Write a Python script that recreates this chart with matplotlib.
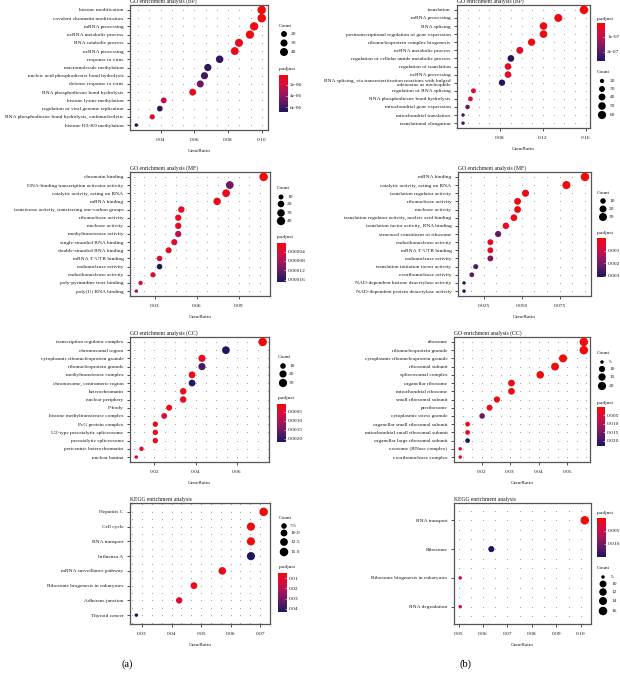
import numpy as np
import matplotlib
matplotlib.use('Agg')
import matplotlib.pyplot as plt
from matplotlib.colors import LinearSegmentedColormap, Normalize
from matplotlib.cm import ScalarMappable

# ---------------------------------------------------------------- data
bp_a_terms = ['histone modification', 'covalent chromatin modification',
              'mRNA processing', 'ncRNA metabolic process',
              'RNA catabolic process', 'ncRNA processing', 'response to virus',
              'macromolecule methylation',
              'nucleic acid phosphodiester bond hydrolysis',
              'defense response to virus', 'RNA phosphodiester bond hydrolysis',
              'histone lysine methylation',
              'regulation of viral genome replication',
              'RNA phosphodiester bond hydrolysis, endonucleolytic',
              'histone H3-K9 methylation']
bp_a_ratio = [0.100, 0.100, 0.0955, 0.093, 0.0865, 0.084, 0.075, 0.068, 0.066,
              0.0635, 0.059, 0.0418, 0.0395, 0.035, 0.0255]
bp_a_count = [47, 47, 45, 44, 41, 39, 35, 32, 31, 30, 28, 20, 19, 16, 12]
bp_a_padj = [2.0e-7, 2.0e-7, 4e-7, 5e-7, 6e-7, 8e-7, 6.2e-6, 6.3e-6, 5.9e-6,
             4.8e-6, 8e-7, 2.4e-6, 6.5e-6, 1.4e-6, 6.9e-6]

bp_b_terms = ['translation', 'mRNA processing', 'RNA splicing',
              'posttranscriptional regulation of gene expression',
              'ribonucleoprotein complex biogenesis', 'ncRNA metabolic process',
              'regulation of cellular amide metabolic process',
              'regulation of translation', 'ncRNA processing',
              'RNA splicing, via transesterification reactions with bulged\n'
              'adenosine as nucleophile',
              'regulation of RNA splicing', 'RNA phosphodiester bond hydrolysis',
              'mitochondrial gene expression', 'mitochondrial translation',
              'translational elongation']
bp_b_ratio = [0.1582, 0.1343, 0.1205, 0.1205, 0.1094, 0.0984, 0.0901, 0.0874,
              0.0874, 0.0818, 0.0552, 0.0524, 0.0497, 0.0455, 0.0455]
bp_b_count = [66, 56, 50, 50, 46, 41, 38, 37, 37, 34, 23, 22, 21, 19, 19]
bp_b_padj = [7e-9, 1e-8, 1e-8, 1.5e-8, 2e-8, 4e-8, 2.55e-7, 4e-8, 4e-8, 2.6e-7,
             5e-8, 6e-8, 1.9e-7, 2.2e-7, 2.25e-7]

mf_a_terms = ['chromatin binding', 'DNA-binding transcription activator activity',
              'catalytic activity, acting on RNA', 'mRNA binding',
              'transferase activity, transferring one-carbon groups',
              'ribonuclease activity', 'nuclease activity',
              'methyltransferase activity', 'single-stranded RNA binding',
              'double-stranded RNA binding', "mRNA 3'-UTR binding",
              'endonuclease activity', 'endoribonuclease activity',
              'poly-pyrimidine tract binding', 'poly(U) RNA binding']
mf_a_ratio = [0.1076, 0.0835, 0.0809, 0.0745, 0.049, 0.0468, 0.0468, 0.0468,
              0.044, 0.040, 0.0335, 0.0335, 0.0288, 0.020, 0.017]
mf_a_count = [42, 33, 32, 29, 19, 18, 18, 18, 17, 16, 13, 13, 11, 8, 7]
mf_a_padj = [4e-6, 1.15e-4, 2e-5, 2e-5, 2.5e-5, 2.5e-5, 2.5e-5, 7e-5, 3e-5,
             3e-5, 3.5e-5, 1.69e-4, 3.5e-5, 4e-5, 7.5e-5]

mf_b_terms = ['mRNA binding', 'catalytic activity, acting on RNA',
              'translation regulator activity', 'ribonuclease activity',
              'nuclease activity',
              'translation regulator activity, nucleic acid binding',
              'translation factor activity, RNA binding',
              'structural constituent of ribosome', 'endoribonuclease activity',
              "mRNA 3'-UTR binding", 'endonuclease activity',
              'translation initiation factor activity',
              'exoribonuclease activity',
              'NAD-dependent histone deacetylase activity',
              'NAD-dependent protein deacetylase activity']
mf_b_ratio = [0.0917, 0.0795, 0.0526, 0.0474, 0.0474, 0.045, 0.0397, 0.0346,
              0.0295, 0.0295, 0.0295, 0.0199, 0.0173, 0.0122, 0.0122]
mf_b_count = [36, 31, 21, 19, 19, 18, 16, 14, 12, 12, 12, 8, 7, 5, 5]
mf_b_padj = [1e-6, 1e-5, 1e-4, 1.5e-4, 1.5e-4, 2e-4, 3e-4, 2.3e-3, 4e-4, 4e-4,
             1.9e-3, 2.4e-3, 2.3e-3, 2.8e-3, 3.1e-3]

cc_a_terms = ['transcription regulator complex', 'chromosomal region',
              'cytoplasmic ribonucleoprotein granule',
              'ribonucleoprotein granule', 'methyltransferase complex',
              'chromosome, centromeric region', 'heterochromatin',
              'nuclear periphery', 'P-body', 'histone methyltransferase complex',
              'PcG protein complex', 'U2-type precatalytic spliceosome',
              'precatalytic spliceosome', 'pericentric heterochromatin',
              'nuclear lamina']
cc_a_ratio = [0.0725, 0.0547, 0.0431, 0.0431, 0.0383, 0.0383, 0.034, 0.034,
              0.0272, 0.0248, 0.0205, 0.0205, 0.0205, 0.0138, 0.0113]
cc_a_count = [33, 25, 20, 20, 17, 17, 15, 15, 12, 11, 9, 9, 9, 6, 5]
cc_a_padj = [6e-5, 2.17e-3, 3e-4, 1.85e-3, 2e-4, 2.1e-3, 2e-4, 3e-4, 2e-4,
             5e-4, 2.5e-4, 2.5e-4, 2.5e-4, 3e-4, 5e-4]

cc_b_terms = ['ribosome', 'ribonucleoprotein granule',
              'cytoplasmic ribonucleoprotein granule', 'ribosomal subunit',
              'spliceosomal complex', 'organellar ribosome',
              'mitochondrial ribosome', 'small ribosomal subunit', 'preribosome',
              'cytoplasmic stress granule', 'organellar small ribosomal subunit',
              'mitochondrial small ribosomal subunit',
              'organellar large ribosomal subunit', 'exosome (RNase complex)',
              'exoribonuclease complex']
cc_b_ratio = [0.0559, 0.0559, 0.0486, 0.0458, 0.0406, 0.0305, 0.0305, 0.0254,
              0.0228, 0.0202, 0.0151, 0.0151, 0.0151, 0.0125, 0.0125]
cc_b_count = [22, 22, 19, 18, 16, 12, 12, 10, 9, 8, 6, 6, 6, 5, 5]
cc_b_padj = [1e-5, 1e-5, 1e-4, 2e-4, 3e-4, 5e-4, 5e-4, 8e-4, 1.5e-3, 0.016,
             1.2e-3, 1.2e-3, 0.023, 5e-3, 5e-3]

kegg_a_terms = ['Hepatitis C', 'Cell cycle', 'RNA transport', 'Influenza A',
                'mRNA surveillance pathway', 'Ribosome biogenesis in eukaryotes',
                'Adherens junction', 'Thyroid cancer']
kegg_a_ratio = [0.0712, 0.0669, 0.0669, 0.0669, 0.0572, 0.0476, 0.0426, 0.0281]
kegg_a_count = [15, 14, 14, 14, 12, 10, 9, 6]
kegg_a_padj = [0.005, 0.006, 0.006, 0.042, 0.007, 0.008, 0.014, 0.043]

kegg_b_terms = ['RNA transport', 'Ribosome',
                'Ribosome biogenesis in eukaryotes', 'RNA degradation']
kegg_b_ratio = [0.1016, 0.0634, 0.0507, 0.0507]
kegg_b_count = [16, 8, 5, 5]
kegg_b_padj = [1e-4, 0.015, 0.004, 0.004]

# legend keys
bp_a_keys, bp_b_keys = [20, 30, 40], [20, 30, 40, 50, 60]
mf_a_keys, mf_b_keys = [10, 20, 30, 40], [10, 20, 30]
cc_a_keys, cc_b_keys = [10, 20, 30], [5, 10, 15, 20]
kegg_a_keys, kegg_b_keys = [7.5, 10.0, 12.5, 15.0], [5, 10, 12, 14, 16]

bp_a_cb = [2e-6, 4e-6, 6e-6]
bp_b_cb = [1e-7, 2e-7]
mf_a_cb = [4e-5, 8e-5, 1.2e-4, 1.6e-4]
mf_b_cb = [0.001, 0.002, 0.003]
cc_a_cb = [0.0005, 0.0010, 0.0015, 0.0020]
cc_b_cb = [0.005, 0.010, 0.015, 0.020]
kegg_a_cb = [0.01, 0.02, 0.03, 0.04]
kegg_b_cb = [0.005, 0.010]

# ---------------------------------------------------------------- style
W, H = 620, 673
FS = 3.9
plt.rcParams['font.family'] = ['Liberation Serif', 'DejaVu Serif']
TXT = '#1a1a1a'
cmap = LinearSegmentedColormap.from_list(
    'padj', ['#f00a0a', '#d80c40', '#a0165a', '#5c1a64', '#1c165c'])


def rect(x0, y0, x1, y1):
    return [x0 / W, 1 - y1 / H, (x1 - x0) / W, (y1 - y0) / H]


def dot_area(c, lo, hi):
    frac = np.clip((np.asarray(c, float) - lo) / (hi - lo), 0, 1)
    d_px = 3.5 + 5.0 * np.sqrt(frac)
    return (d_px * 72 / 100) ** 2


panels = [
    dict(terms=bp_a_terms, ratio=bp_a_ratio, count=bp_a_count, padj=bp_a_padj,
         title='GO enrichment analysis (BP)', box=(130, 268, 5, 130),
         xt=[0.04, 0.06, 0.08, 0.10], xf='{:.2f}', minor=3, ysub=1,
         keys=bp_a_keys, kf='{:g}', cnt=(279, 26, 284, 291, [34, 43, 52]),
         cb=bp_a_cb, cbl=['2e-06', '4e-06', '6e-06'],
         pt=(279, 69), cbb=(279, 75, 288, 112)),
    dict(terms=bp_b_terms, ratio=bp_b_ratio, count=bp_b_count, padj=bp_b_padj,
         title='GO enrichment analysis (BP)', box=(457, 590, 5, 128),
         xt=[0.08, 0.12, 0.16], xf='{:.2f}', minor=4, ysub=1,
         keys=bp_b_keys, kf='{:g}',
         cnt=(597, 72, 602, 610, [81, 89, 97, 106, 115]),
         cb=bp_b_cb, cbl=['1e-07', '2e-07'],
         pt=(597, 19), cbb=(597, 23, 605, 61)),
    dict(terms=mf_a_terms, ratio=mf_a_ratio, count=mf_a_count, padj=mf_a_padj,
         title='GO enrichment analysis (MF)', box=(130, 270, 172, 296),
         xt=[0.03, 0.06, 0.09], xf='{:.2f}', minor=4, ysub=1,
         keys=mf_a_keys, kf='{:g}', cnt=(277, 188, 281, 287, [197, 204, 213, 221]),
         cb=mf_a_cb, cbl=['0.00004', '0.00008', '0.00012', '0.00016'],
         pt=(277, 237), cbb=(277, 243, 286, 282)),
    dict(terms=mf_b_terms, ratio=mf_b_ratio, count=mf_b_count, padj=mf_b_padj,
         title='GO enrichment analysis (MF)', box=(458, 591, 172, 296),
         xt=[0.025, 0.050, 0.075], xf='{:.3f}', minor=3, ysub=1,
         keys=mf_b_keys, kf='{:g}', cnt=(597, 193, 603, 609, [201, 209, 217]),
         cb=mf_b_cb, cbl=['0.001', '0.002', '0.003'],
         pt=(597, 233), cbb=(597, 238, 606, 277)),
    dict(terms=cc_a_terms, ratio=cc_a_ratio, count=cc_a_count, padj=cc_a_padj,
         title='GO enrichment analysis (CC)', box=(130, 269, 337, 462),
         xt=[0.02, 0.04, 0.06], xf='{:.2f}', minor=4, ysub=1,
         keys=cc_a_keys, kf='{:g}', cnt=(278, 357, 283, 289, [366, 374, 383]),
         cb=cc_a_cb, cbl=['0.0005', '0.0010', '0.0015', '0.0020'],
         pt=(278, 398), cbb=(277, 404, 286, 442)),
    dict(terms=cc_b_terms, ratio=cc_b_ratio, count=cc_b_count, padj=cc_b_padj,
         title='GO enrichment analysis (CC)', box=(454, 590, 337, 462),
         xt=[0.02, 0.03, 0.04, 0.05], xf='{:.2f}', minor=3, ysub=1,
         keys=cc_b_keys, kf='{:g}', cnt=(597, 353, 602, 609, [362, 369, 377, 386]),
         cb=cc_b_cb, cbl=['0.005', '0.010', '0.015', '0.020'],
         pt=(597, 403), cbb=(597, 407, 605, 446)),
    dict(terms=kegg_a_terms, ratio=kegg_a_ratio, count=kegg_a_count,
         padj=kegg_a_padj,
         title='KEGG enrichment analysis', box=(130, 270, 503, 624),
         xt=[0.03, 0.04, 0.05, 0.06, 0.07], xf='{:.2f}', minor=3, ysub=2,
         keys=kegg_a_keys, kf='{:.1f}',
         cnt=(279, 518, 284, 290, [526, 533, 542, 552]),
         cb=kegg_a_cb, cbl=['0.01', '0.02', '0.03', '0.04'],
         pt=(279, 567), cbb=(278, 573, 287, 612)),
    dict(terms=kegg_b_terms, ratio=kegg_b_ratio, count=kegg_b_count,
         padj=kegg_b_padj,
         title='KEGG enrichment analysis', box=(454, 591, 503, 624),
         xt=[0.05, 0.06, 0.07, 0.08, 0.09, 0.10], xf='{:.2f}', minor=2, ysub=3,
         keys=kegg_b_keys, kf='{:g}',
         cnt=(597, 568, 603, 611, [577, 584, 592, 601, 611]),
         cb=kegg_b_cb, cbl=['0.005', '0.010'],
         pt=(597, 513), cbb=(597, 518, 606, 557)),
]


def draw_panel(fig, over, p):
    x0, x1, yt, yb = p['box']
    ax = fig.add_axes(rect(x0, yt, x1, yb))
    n = len(p['terms'])
    ypos = np.arange(n)
    ratio = np.asarray(p['ratio'])
    lo, hi = ratio.min(), ratio.max()
    pad = 0.05 * (hi - lo)
    ax.set_xlim(lo - pad, hi + pad)
    ax.set_ylim(n - 0.4, -0.6)

    # dotted background lattice
    step = (p['xt'][1] - p['xt'][0]) / p['minor']
    start = p['xt'][0] - step * np.floor((p['xt'][0] - (lo - pad)) / step)
    gx = np.arange(start, hi + pad, step)
    gy = np.arange(np.ceil(-0.6 * p['ysub']) / p['ysub'], n - 0.4, 1 / p['ysub'])
    GX, GY = np.meshgrid(gx, gy)
    ax.scatter(GX.ravel(), GY.ravel(), s=0.3, c='#808080', linewidths=0,
               zorder=1)

    cnt = np.asarray(p['count'], float)
    clo, chi = cnt.min(), cnt.max()
    norm = Normalize(min(p['padj']), max(p['padj']))
    ax.scatter(ratio, ypos, s=dot_area(cnt, clo, chi), c=p['padj'], cmap=cmap,
               norm=norm, linewidths=0, zorder=3)

    ax.set_yticks(ypos)
    ax.set_yticklabels(p['terms'], fontsize=FS, color=TXT, linespacing=1.0)
    ax.set_xticks(p['xt'])
    ax.set_xticklabels([p['xf'].format(v) for v in p['xt']], fontsize=FS,
                       color=TXT)
    ax.tick_params(length=2.2, width=0.6, color='#333333', pad=2.5)
    ax.tick_params(axis='x', pad=3.5)
    for s in ax.spines.values():
        s.set_color('#555555')
        s.set_linewidth(0.9)
    ax.set_xlabel('GeneRatio', fontsize=FS, color=TXT, labelpad=5)
    ax.set_title(p['title'], loc='left', fontsize=4.1, color=TXT, pad=1.5)

    # size legend
    tx, ty, dx, lx, ys = p['cnt']
    over.text(tx, ty, 'Count', fontsize=FS, color=TXT, va='center', ha='left')
    over.scatter([dx] * len(p['keys']), ys, s=dot_area(p['keys'], clo, chi),
                 c='black', linewidths=0)
    for k, y in zip(p['keys'], ys):
        over.text(lx, y, p['kf'].format(k), fontsize=FS, color=TXT,
                  va='center', ha='left')

    # colour legend
    px, py = p['pt']
    over.text(px, py, 'p.adjust', fontsize=FS, color=TXT, va='center',
              ha='left')
    cax = fig.add_axes(rect(*p['cbb']))
    cb = fig.colorbar(ScalarMappable(norm=norm, cmap=cmap), cax=cax)
    cax.invert_yaxis()
    cb.set_ticks(p['cb'])
    cb.set_ticklabels(p['cbl'])
    cb.outline.set_visible(False)
    cax.tick_params(length=1.5, width=0.4, color='white', direction='in',
                    labelsize=FS, labelcolor=TXT, pad=1.5)


fig = plt.figure(figsize=(W / 100, H / 100), dpi=100)
over = fig.add_axes([0, 0, 1, 1])
over.set_xlim(0, W)
over.set_ylim(H, 0)
over.axis('off')

for p in panels:
    draw_panel(fig, over, p)

fig.text(127 / W, 1 - 664 / H, '(a)', fontsize=7.5, ha='center', va='center')
fig.text(466 / W, 1 - 664 / H, '(b)', fontsize=7.5, ha='center', va='center')

fig.savefig('out.png', dpi=100)
